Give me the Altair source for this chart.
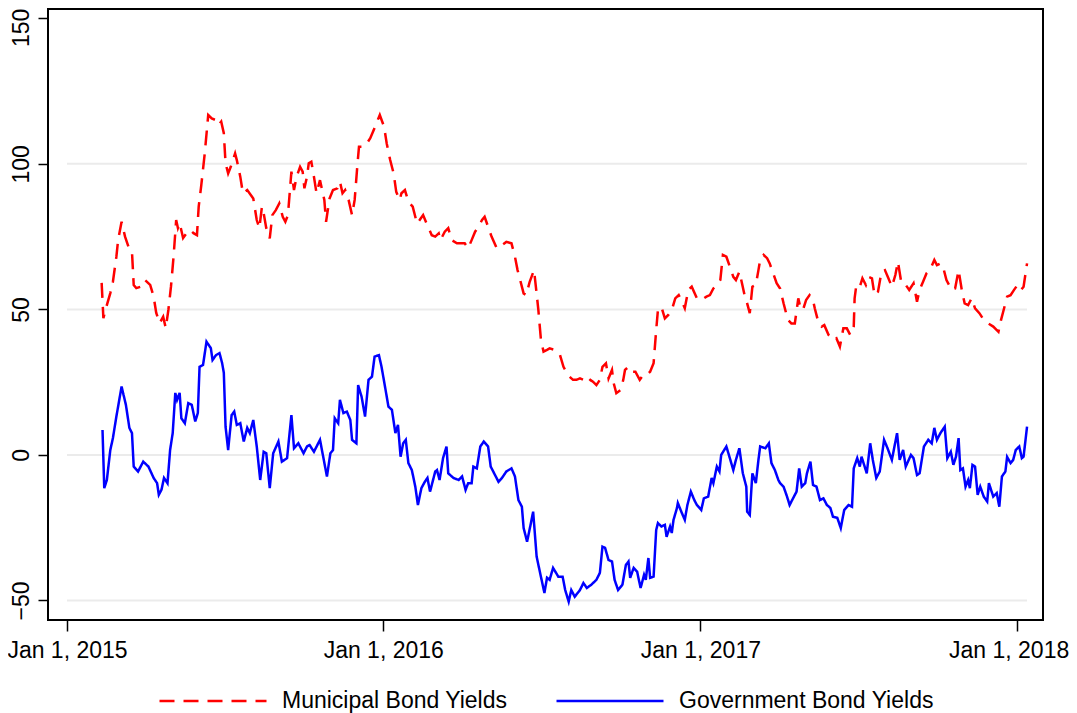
import altair as alt
import pandas as pd

# ---- data (days since 2015-01-01, basis points) ----
muni_days_a = [40,42,46,50,53,57,59,63,67,71,75,77,80,85,90,96,100,103,107,111,
               114,117,120,123,126,128,130,134,138,142,146,150,152,155,159,163,167,172,175,178,
               181,183,186,189,194,196,200,203,208,215,219,222,225,227,230,234,237,241,245,249,
               252,255,257,259,262,265,269,272,274,277,279,282,285,288]
muni_vals_a = [59.1,47.0,51.5,55.6,59.5,68.1,73.8,80.1,75,71.5,69.8,58.4,57.3,57.8,60.1,58.4,54.4,48.8,45.3,47.5,
               43.6,49.8,57.8,68.1,80.7,78,79.7,74.5,76.2,77.3,76.2,75.5,85.3,92.7,103.6,116.8,115.6,115,113.3,114.5,
               110.5,100.2,96.7,99,103.6,101.3,95.6,89.9,91,88.1,80.7,77.9,85.3,83,77.9,74.4,82.4,84.1,86.4,81.8,
               80.1,82.4,89.9,97.3,91,95.6,99,97.3,91.6,95.6,100.2,100.7,95.6,89.9]
muni_days_b = [292,297,299,303,307,312,315,318,321,325,329,332,335,337,342,346,350,354,357,361,
               366,369,373,377,380,384,386,390,394,399,404,407,411,415,421,425,429,431,436,440,
               444,450,455,459,463,467,471,475,479,482,486,490,496,502,507,513,517,520,523,527,
               530,534,539,542,544,547,550,554]
muni_vals_b = [94.4,87.6,80.1,88.1,91,91.6,93.9,89.9,91,87.6,82.4,87.6,99,105.9,105.9,107,108.8,111.6,113.9,116.8,
               112.7,107,101.3,96.7,90.4,87.6,89.9,91,87,85.3,79.5,80.7,82.4,79.5,75.5,75,76.1,73.8,76.7,77.9,
               73.8,72.7,72.7,72.7,71,73.8,76.7,78.4,80.7,81.8,78.4,75,71,72.1,73.2,72.7,68.1,63.5,60.1,55.5,
               54.9,59.5,63.5,55.5,49.8,39.5,35.5,36.1]
muni_days_c = [557,563,569,573,577,580,584,588,592,596,600,604,607,611,615,618,622,625,629,631,
               634,639,642,644,648,652,656,661,665,669,673,677,680,682,686,690,694,698,702,706,
               709,713,717,721,727,732,738,742,746,750,754,757,761,765,769,772,776,779,782,784,
               788,791,795,798,800,804,808,811,815,819]
muni_vals_c = [36.6,36.1,34.3,30.3,28.1,26.9,25.8,25.8,26.3,25.8,24.6,25.8,25.2,24,25.8,30.3,31.5,26.3,29.2,24.6,
               21.2,22.3,25.8,29.2,30.3,28.6,28.6,25.8,27.5,27.5,28.6,31.5,42.9,49.8,50.9,46.9,48.1,49.8,53.8,54.9,
               53.2,50.4,56.7,57.8,53.8,53.2,54.4,54.9,57.2,58.4,60.1,68.7,68.1,64.7,61.2,60.1,62.9,59,54.9,53.2,
               48.7,57.8,58.4,63.5,67,68.7,67.6,65.8,62.4,59]
muni_days_d = [823,827,829,832,836,840,844,847,850,853,857,861,863,867,871,874,879,884,888,892,
               896,900,904,908,909,911,915,918,922,925,929,932,936,940,944,948,952,956,959,963,
               968,972,977,981,984,988,992,996,1001,1004,1008,1011,1015,1021,1025,1029,1033,1036,1040,1044,
               1048,1053,1058,1063,1069,1075,1078,1081,1085,1089,1093,1097,1101,1104,1108]
muni_vals_d = [57.2,52.1,49.8,46.4,45.2,45.2,53.8,49.8,50.4,53.2,54.9,53.2,50.4,45.8,44.1,44.6,41.2,39.5,40.1,37.2,
               43.5,43.5,41.2,44.1,53.8,58.4,57.8,60.7,58.4,61.2,60.7,54.9,56.1,62.9,63.5,60.7,57.8,61.8,66.4,59,
               58.4,56.7,59,52.6,56.7,59.5,62.4,63.5,67,65.2,65.8,64.7,60.1,56.7,57.2,63.5,56.1,52.1,51.5,53.8,
               50.4,48.7,46.4,45.2,44.1,42.3,46.4,49.8,54.4,54.9,56.7,58.4,56.7,57.8,65.8]

gov_days_a = [41,43,46,50,53,57,63,68,72,75,77,82,88,94,100,104,106,109,112,116,
              119,122,125,127,130,132,136,140,144,148,151,153,157,161,166,168,172,176,179,181,
              183,186,190,193,196,200,204,208,211,215,219,223,227,230,234,238,244,248,254,259,
              262,267,273,277,280,285]
gov_vals_a = [8.6,-11.4,-8.6,1.7,5.8,13.2,23.5,17.2,9.3,7.5,-4,-5.7,-2.3,-4,-7.9,-9.7,-13.7,-12,-7.9,-9.7,
              1.7,7.5,21.3,18.9,21.3,12.6,10.9,17.8,17.2,11.5,14.4,30.3,30.9,38.9,36.7,32.6,34.3,35,31.6,28.2,
              9.7,1.7,13.7,14.9,10.3,10.9,4.6,9.3,7.5,12,2.9,-8.6,1.1,0.6,-11.4,0.6,4.6,-2.3,-1.1,13.7,
              2.3,4,0.6,2.9,3.4,1.1]
gov_days_b = [292,300,304,307,309,313,315,319,323,327,329,334,336,340,344,348,352,355,360,363,
              367,371,375,379,382,385,388,391,394,398,402,405,409,413,416,419,425,427,430,434,
              438,440,446,452,456,460,463,467,469,473,477,481,486,489,494,498,502,507,513,517,
              521,525,527,531,535,538,542,546,551,554]
gov_vals_b = [5.2,-7.4,0.6,1.7,12.6,10.9,18.9,14.4,14.9,12,5.2,4,24,20,13.2,25.8,26.9,33.8,34.3,30.3,
              23.5,16.6,15.5,7.5,10.3,-0.6,4,5.2,-2.8,-5.2,-10.9,-17.2,-11.4,-9.2,-7.9,-12.6,-5.7,-5.2,-8.6,-1.1,
              2.9,-6.3,-7.9,-8.6,-7.4,-12,-9.7,-9.7,-4,-4.6,2.9,4.6,2.9,-4,-6.9,-9.2,-7.9,-5.7,-4.6,-7.4,
              -15.5,-17.8,-25.1,-29.8,-24,-19.5,-34.9,-40.5,-47.4,-42.2]
gov_days_c = [557,561,567,572,575,579,582,586,592,596,600,605,611,615,618,621,625,629,632,636,
              641,645,648,650,654,658,662,666,668,671,673,677,680,682,686,690,692,696,698,700,
              704,705,709,713,716,720,724,727,732,735,740,744,746,750,753,755,761,765,769,772,
              776,780,784,785,788,791,795,798,800,806,810,813,817,821]
gov_vals_c = [-42.9,-38.8,-41.8,-41.8,-46.4,-50.4,-46.4,-48.7,-46.4,-44,-45.7,-44.6,-42.9,-40.5,-31.5,-31.9,-36.1,-36.6,-42.9,-46.4,
              -44.6,-37.8,-36.6,-42.2,-38.8,-40.1,-45.7,-41.2,-42.9,-35.4,-42.2,-41.8,-25.8,-23.4,-24.6,-24,-28.1,-24.6,-26.8,-22.3,
              -18.2,-16.5,-19.5,-22.3,-17.2,-12.6,-15.5,-17.2,-18.9,-14.9,-14.3,-7.9,-9.7,-4,-5.7,0,2.9,-1.1,-5.2,-1.7,
              2.3,-6.3,-10.9,-19.5,-20.6,-6.3,-9.7,-1.7,2.9,2.3,4,-2.8,-5.2,-8.6]
gov_days_d = [823,827,831,834,839,842,845,848,852,854,858,861,865,869,873,877,881,884,889,893,
              897,902,906,908,912,915,917,923,927,930,934,938,943,947,952,958,961,965,968,974,
              977,981,984,989,994,998,1001,1004,1008,1013,1016,1020,1023,1026,1029,1031,1034,1037,1040,1042,
              1045,1048,1051,1054,1058,1062,1064,1069,1073,1076,1079,1083,1085,1089,1092,1095,1099,1102,1104,1108]
gov_vals_d = [-9.7,-10.9,-14.3,-17.2,-14.3,-12.6,-4.6,-10.9,-9.7,-6.3,-2.3,-10.3,-10.9,-15.5,-14.9,-17.2,-18.2,-21.2,-21.6,-25.1,
              -18.9,-17.2,-17.8,-4.6,-1.1,-4,-0.6,-6.3,4,-1.7,-7.9,-5.7,5.2,2.3,-1.7,7.5,-1.7,1.7,-4,0,
              -1.1,-6.9,-6.3,2.9,5.2,4,9.3,5.2,7.5,9.7,-1.1,1.1,-3.4,-0.6,5.8,-5.2,-4.6,-10.9,-8.6,-11.4,
              -3.4,-4,-13.7,-10.9,-14.3,-16,-9.7,-14.3,-13.1,-17.8,-7.4,-5.7,-0.7,-2.8,-1.7,1.7,2.9,-1.1,-0.6,9.7]

series_names = ["Municipal Bond Yields", "Government Bond Yields"]
series_colors = ["#ff0000", "#0000ff"]
y_ticks = [-50, 0, 50, 100, 150]
grid_values = [-50, 0, 50, 100]
grid_start = "2015-01-01"
grid_end = "2018-01-13"
tick_years = [2015, 2016, 2017, 2018]

# ---- build table ----
base = pd.Timestamp("2015-01-01")


def frame(days, vals, name):
    assert len(days) == len(vals)
    return pd.DataFrame({
        "date": [(base + pd.Timedelta(days=d)).strftime("%Y-%m-%d") for d in days],
        "value": vals,
        "series": name,
    })


df = pd.concat([
    frame(muni_days_a + muni_days_b + muni_days_c + muni_days_d,
          muni_vals_a + muni_vals_b + muni_vals_c + muni_vals_d, series_names[0]),
    frame(gov_days_a + gov_days_b + gov_days_c + gov_days_d,
          gov_vals_a + gov_vals_b + gov_vals_c + gov_vals_d, series_names[1]),
], ignore_index=True)

grid_df = pd.DataFrame({"y": grid_values, "start": grid_start, "end": grid_end})

FONT = "Liberation Sans"
FS = 23

x_scale = alt.Scale(
    type="utc",
    domain=[alt.DateTime(year=2014, month=12, date=10, hours=2, utc=True),
            alt.DateTime(year=2018, month=1, date=31, hours=10, utc=True)],
)
y_scale = alt.Scale(domain=[-56.7, 153.2], nice=False, zero=False)

x_axis = alt.Axis(
    values=[alt.DateTime(year=y, month=1, date=1, utc=True) for y in tick_years],
    labelExpr="utcFormat(datum.value, '%b %-d, %Y')",
    title=None, grid=False, domain=False,
    tickSize=11, tickColor="black", tickWidth=1.5,
    labelFont=FONT, labelFontSize=FS, labelColor="black",
    labelPadding=8, labelFlush=False, labelOverlap=False,
    labelOffset={"condition": {"test": "datum.value > 1500000000000", "value": -8}, "value": 0},
)
y_axis = alt.Axis(
    values=y_ticks, title=None, grid=False, domain=False,
    tickSize=10, tickColor="black", tickWidth=1.5,
    labelAngle=270, labelAlign="center", labelBaseline="bottom",
    labelFont=FONT, labelFontSize=FS, labelColor="black",
    labelPadding=5, labelFlush=False, labelOverlap=False,
    labelOffset={"condition": {"test": "datum.value >= 150", "value": 9}, "value": 0},
)

legend = alt.Legend(
    title=None, orient="none", legendX=110, legendY=637, direction="horizontal",
    symbolType="stroke", symbolSize=107 * 107, symbolStrokeWidth=2.5,
    labelFont=FONT, labelFontSize=FS, labelColor="black", labelLimit=500,
    labelOffset=14, columnPadding=43, padding=0,
)

grid = alt.Chart(grid_df).mark_rule(color="#ebebeb", strokeWidth=2).encode(
    x=alt.X("start:T", scale=x_scale, axis=x_axis),
    x2="end:T",
    y=alt.Y("y:Q", scale=y_scale, axis=y_axis),
)

lines = alt.Chart(df).mark_line(strokeWidth=2.5).encode(
    x=alt.X("date:T", scale=x_scale, axis=x_axis),
    y=alt.Y("value:Q", scale=y_scale, axis=y_axis),
    color=alt.Color("series:N", scale=alt.Scale(domain=series_names, range=series_colors), legend=legend),
    strokeDash=alt.StrokeDash("series:N", scale=alt.Scale(domain=series_names, range=[[15, 9], [1, 0]]), legend=legend),
)

chart = alt.layer(grid, lines).properties(
    width=995, height=611,
    autosize=alt.AutoSizeParams(type="none"),
    padding={"left": 40, "top": 1, "right": 26, "bottom": 93},
    background="white",
).configure_view(stroke="black", strokeWidth=2)

chart.save("out.html", embed_options={"renderer": "svg", "actions": False})
